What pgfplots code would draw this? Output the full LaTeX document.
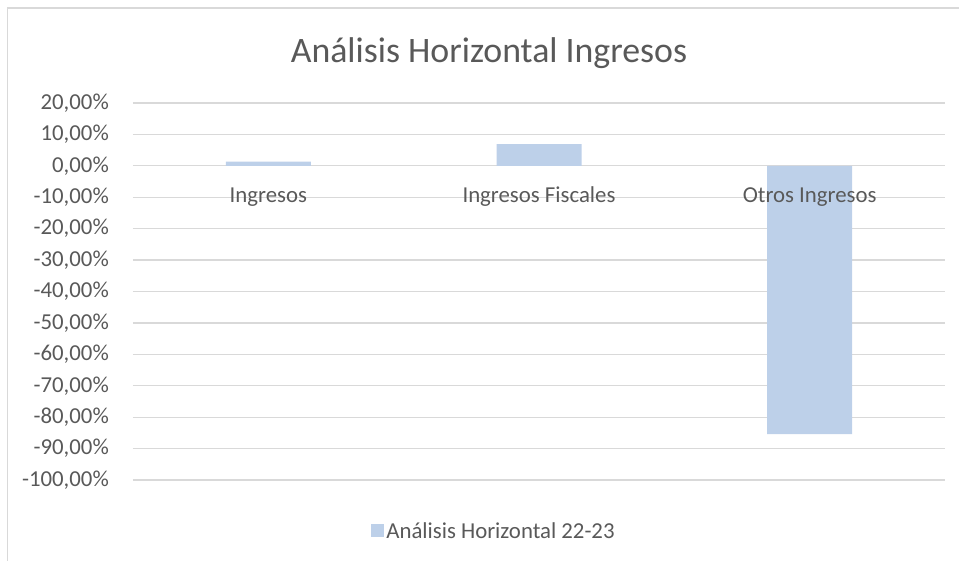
\documentclass[border=0pt]{standalone}
\usepackage{pgfplots}
\pgfplotsset{compat=1.18}
\usepackage{fontspec}
\setmainfont{Carlito}
\definecolor{txt}{HTML}{595959}
\definecolor{gridc}{HTML}{D9D9D9}
\definecolor{barc}{HTML}{BDD0E9}
\begin{document}
\begin{tikzpicture}[x=1pt,y=1pt]
\useasboundingbox (0,0) rectangle (959,561);
\draw[gridc, line width=1.2pt] (7.5,-5) -- (7.5,553) -- (970,553);
\node[text=txt, font=\fontsize{35.8}{42}\selectfont, anchor=base] at (489,498.5) {Análisis Horizontal Ingresos};
\begin{axis}[
  at={(133pt,81pt)}, anchor=south west,
  scale only axis, width=812pt, height=377pt,
  xmin=-0.5, xmax=2.5, ymin=-100, ymax=20,
  ybar, bar width=85pt,
  ytick={-100,-90,-80,-70,-60,-50,-40,-30,-20,-10,0,10,20},
  yticklabels={{-100,00\%},{-90,00\%},{-80,00\%},{-70,00\%},{-60,00\%},{-50,00\%},{-40,00\%},{-30,00\%},{-20,00\%},{-10,00\%},{0,00\%},{10,00\%},{20,00\%}},
  xtick={0,1,2},
  xticklabels={,,},
  ymajorgrids, grid style={gridc, line width=1.2pt},
  axis line style={draw=none}, major tick length=0pt,
  tick label style={font=\fontsize{22.8}{25}\selectfont, text=txt},
  yticklabel style={anchor=east, inner sep=0pt, xshift=-24pt},
  legend style={at={(0.4446,-0.135)}, anchor=center, draw=none, fill=none,
    font=\fontsize{22.8}{25}\selectfont, text=txt, inner sep=0pt},
  legend image code/.code={\fill[barc] (0pt,-6.5pt) rectangle (13pt,6.5pt);},
  clip=false,
]
\addplot[fill=barc, draw=none] coordinates {(0,1.3) (1,6.9) (2,-85.4)};
\addlegendentry{Análisis Horizontal 22-23}
\node[anchor=base, inner sep=0pt, text=txt, font=\fontsize{22.8}{25}\selectfont] at (axis cs:0,-11.8) {Ingresos};
\node[anchor=base, inner sep=0pt, text=txt, font=\fontsize{22.8}{25}\selectfont] at (axis cs:1,-11.8) {Ingresos Fiscales};
\node[anchor=base, inner sep=0pt, text=txt, font=\fontsize{22.8}{25}\selectfont] at (axis cs:2,-11.8) {Otros Ingresos};
\end{axis}
\end{tikzpicture}
\end{document}
